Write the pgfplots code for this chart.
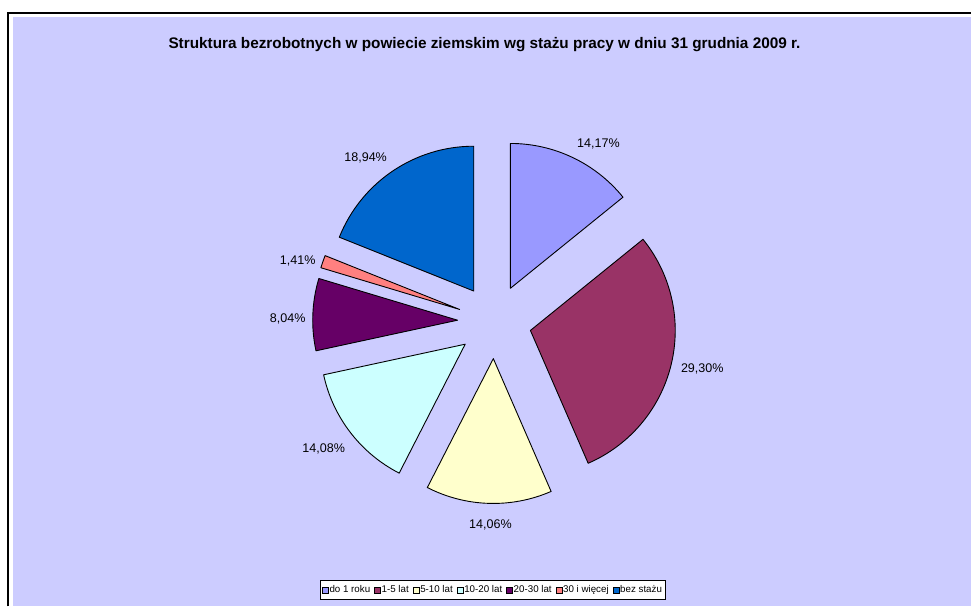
\documentclass[border=0pt]{standalone}
\usepackage{pgfplots}
\pgfplotsset{compat=1.18}
\usepackage{pgfplotstable}
\usepackage{fontspec}
\setmainfont{Liberation Sans}

\definecolor{bg}{HTML}{CCCCFF}
\definecolor{pc0}{HTML}{9999FF}
\definecolor{pc1}{HTML}{993366}
\definecolor{pc2}{HTML}{FFFFCC}
\definecolor{pc3}{HTML}{CCFFFF}
\definecolor{pc4}{HTML}{660066}
\definecolor{pc5}{HTML}{FF8080}
\definecolor{pc6}{HTML}{0066CC}

% share in %, label position (picture pixels, y down)
\pgfplotstableread[col sep=comma]{
value,lx,ly
14.17,599,143
29.30,703,368
14.06,491,524
14.08,324,448
8.04,288,318
1.41,298,260
18.94,366,157
}\piedata

\newcommand\pieget[2]{\csname pie@#1@#2\endcsname}
\xdef\piecum{0}
\foreach \i in {0,...,6}{%
  \pgfplotstablegetelem{\i}{value}\of\piedata \let\pieval\pgfplotsretval
  \pgfplotstablegetelem{\i}{lx}\of\piedata \let\pielx\pgfplotsretval
  \pgfplotstablegetelem{\i}{ly}\of\piedata \let\piely\pgfplotsretval
  \pgfmathsetmacro\piesa{90-3.6*\piecum}
  \pgfmathsetmacro\pieea{90-3.6*(\piecum+\pieval)}
  \pgfmathsetmacro\piema{(\piesa+\pieea)/2}
  \pgfmathsetmacro\pieyb{607-\piely-4.6}
  \pgfmathsetmacro\pienext{\piecum+\pieval}
  \expandafter\xdef\csname pie@\i @sa\endcsname{\piesa}
  \expandafter\xdef\csname pie@\i @ea\endcsname{\pieea}
  \expandafter\xdef\csname pie@\i @ma\endcsname{\piema}
  \expandafter\xdef\csname pie@\i @val\endcsname{\pieval}
  \expandafter\xdef\csname pie@\i @lx\endcsname{\pielx}
  \expandafter\xdef\csname pie@\i @ly\endcsname{\pieyb}
  \xdef\piecum{\pienext}
}

\begin{document}
\begin{tikzpicture}
\begin{axis}[
    width=972bp, height=607bp, scale only axis,
    xmin=0, xmax=972, ymin=0, ymax=607,
    hide axis, clip=false,
    legend columns=-1,
    legend style={at={(0.5072,0.0272)}, anchor=center, draw=black, line width=0.8bp,
        fill=white, font=\fontsize{9.8}{11}\selectfont,
        inner xsep=2bp, inner ysep=4bp, nodes={inner sep=1bp},
        /tikz/every even column/.append style={column sep=3bp}},
    legend image code/.code={\filldraw[#1, draw=black, line width=0.5bp] (0bp,-3bp) rectangle (6bp,3bp);},
]
\fill[white] (axis cs:0,0) rectangle (axis cs:972,607);
\fill[bg] (axis cs:13,0) rectangle (axis cs:972,590);
\draw[black, line width=2bp] (axis cs:8,0) -- (axis cs:8,594) -- (axis cs:972,594);

\node[anchor=base, inner sep=0pt, font=\bfseries\fontsize{15.4}{18}\selectfont]
  at (axis cs:485,558.5)
  {Struktura bezrobotnych w powiecie ziemskim wg stażu pracy w dniu 31 grudnia 2009 r.};

\pgfplotsinvokeforeach{0,...,6}{
  \filldraw[fill=pc#1, draw=black, line width=0.9bp, line join=round]
    ([shift={(\pieget{#1}{ma}:37bp)}]axis cs:495,285) -- +(\pieget{#1}{sa}:145bp)
    arc[start angle=\pieget{#1}{sa}, end angle=\pieget{#1}{ea}, radius=145bp] -- cycle;
  \node[anchor=base, inner sep=0pt, font=\fontsize{12.6}{15}\selectfont]
    at (axis cs:\pieget{#1}{lx},\pieget{#1}{ly})
    {\pgfmathprintnumber[fixed, fixed zerofill, precision=2, use comma, assume math mode=true]{\pieget{#1}{val}}\%};
}

\addlegendimage{fill=pc0}\addlegendentry{do 1 roku}
\addlegendimage{fill=pc1}\addlegendentry{1-5 lat}
\addlegendimage{fill=pc2}\addlegendentry{5-10 lat}
\addlegendimage{fill=pc3}\addlegendentry{10-20 lat}
\addlegendimage{fill=pc4}\addlegendentry{20-30 lat}
\addlegendimage{fill=pc5}\addlegendentry{30 i więcej}
\addlegendimage{fill=pc6}\addlegendentry{bez stażu}
\end{axis}
\end{tikzpicture}
\end{document}
